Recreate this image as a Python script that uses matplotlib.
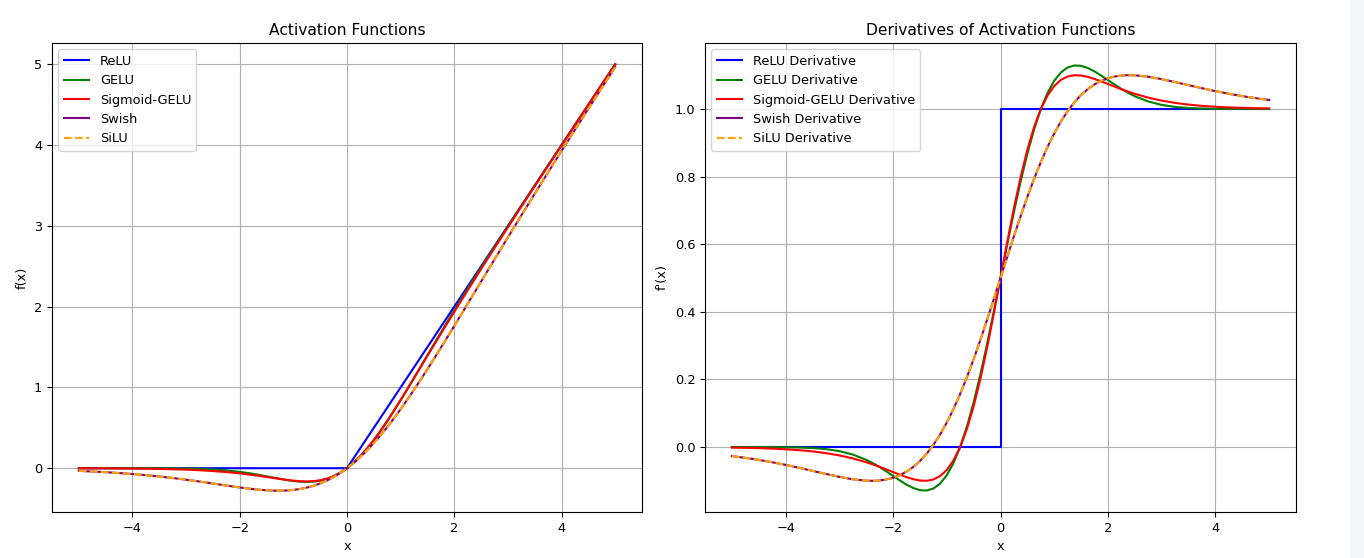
import numpy as np
import matplotlib
matplotlib.use("Agg")
from matplotlib import pyplot as plt
from matplotlib.patches import Rectangle

plt.rcParams['font.size'] = 9.3

# sample points: step 0.25 on the tails, 0.125 in the middle
x = np.r_[np.arange(-5, -2.5, 0.25), np.arange(-2.5, 2.5, 0.125), np.arange(2.5, 5.01, 0.25)]

relu_x = [-5, 0, 5]
relu_y = [0, 0, 5]
relu_d_x = [-5, 0, 0, 5]
relu_d_y = [0, 0, 1, 1]

gelu = [-0.00000, -0.00000, -0.00002, -0.00005, -0.00013, -0.00034, -0.00081, -0.00188, -0.00405, -0.00819,
        -0.01552, -0.02084, -0.02750, -0.03569, -0.04550, -0.05699, -0.07010, -0.08464, -0.10021, -0.11628,
        -0.13206, -0.14659, -0.15866, -0.16694, -0.16997, -0.16624, -0.15427, -0.13269, -0.10032, -0.05628, 0.0,
        0.06872, 0.14968, 0.24231, 0.34573, 0.45876, 0.58003, 0.70806, 0.84134, 0.97841, 1.11794,
        1.25872, 1.39979, 1.54036, 1.67990, 1.81801, 1.95450, 2.08931, 2.22250, 2.35416, 2.48448,
        2.74181, 2.99595, 3.24812, 3.49919, 3.74966, 3.99987, 4.24995, 4.49998, 4.75000, 5.00000]

sig_gelu = [-0.00101, -0.00147, -0.00212, -0.00306, -0.00442, -0.00633, -0.00903, -0.01283, -0.01808, -0.02527,
            -0.03497, -0.04198, -0.04783, -0.05561, -0.06432, -0.07406, -0.08470, -0.09621, -0.10831, -0.12079,
            -0.13306, -0.14450, -0.15420, -0.16103, -0.16361, -0.16037, -0.14961, -0.12962, -0.09880, -0.05588, 0.0,
            0.06912, 0.15120, 0.24538, 0.35039, 0.46463, 0.58639, 0.71397, 0.84580, 0.98050, 1.11694,
            1.25422, 1.39169, 1.52880, 1.66530, 1.80095, 1.93568, 2.06940, 2.20217, 2.33302, 2.46503,
            2.72473, 2.98192, 3.23717, 3.49097, 3.74367, 3.99558, 4.24694, 4.49788, 4.74853, 4.99899]

swish = [-0.03346, -0.04075, -0.04945, -0.05975, -0.07195, -0.08617, -0.10257, -0.12132, -0.14228, -0.16525,
         -0.18964, -0.20211, -0.21454, -0.22672, -0.23841, -0.24931, -0.25909, -0.26734, -0.27364, -0.27749,
         -0.27837, -0.27572, -0.26894, -0.25744, -0.24061, -0.21790, -0.18877, -0.15275, -0.10945, -0.05860, 0.0,
         0.06640, 0.14055, 0.22225, 0.31123, 0.40710, 0.50939, 0.61756, 0.73106, 0.84928, 0.97163,
         1.09751, 1.22636, 1.35766, 1.49091, 1.62569, 1.76159, 1.89828, 2.03546, 2.17289, 2.31036,
         2.58475, 2.85772, 3.12868, 3.39743, 3.66383, 3.92805, 4.19025, 4.45055, 4.70925, 4.96654]
silu = swish

gelu_d = [-0.00001, -0.00002, -0.00008, -0.00021, -0.00051, -0.00123, -0.00283, -0.00602, -0.01195, -0.02203,
          -0.03762, -0.04768, -0.05920, -0.07187, -0.08523, -0.09859, -0.11093, -0.12103, -0.12747, -0.12857,
          -0.12266, -0.10806, -0.08331, -0.04726, 0.00078, 0.06089, 0.13251, 0.21438, 0.30462, 0.40078, 0.5,
          0.59922, 0.69538, 0.78562, 0.86749, 0.93911, 0.99922, 1.04726, 1.08331, 1.10806, 1.12266,
          1.12857, 1.12747, 1.12103, 1.11093, 1.09859, 1.08523, 1.07187, 1.05920, 1.04768, 1.03762,
          1.02203, 1.01195, 1.00602, 1.00283, 1.00123, 1.00051, 1.00021, 1.00008, 1.00002, 1.00001]

sig_gelu_d = [-0.00152, -0.00218, -0.00314, -0.00450, -0.00642, -0.00908, -0.01276, -0.01782, -0.02458, -0.03344,
              -0.04470, -0.05129, -0.05842, -0.06600, -0.07379, -0.08157, -0.08878, -0.09484, -0.09883, -0.09967,
              -0.09591, -0.08591, -0.06778, -0.03960, 0.00043, 0.05368, 0.12078, 0.20128, 0.29351, 0.39442, 0.5,
              0.60558, 0.70649, 0.79872, 0.87922, 0.94632, 0.99957, 1.03960, 1.06778, 1.08591, 1.09591,
              1.09967, 1.09883, 1.09484, 1.08878, 1.08157, 1.07379, 1.06600, 1.05842, 1.05129, 1.04470,
              1.03344, 1.02458, 1.01782, 1.01276, 1.00908, 1.00642, 1.00450, 1.00314, 1.00218, 1.00152]

swish_d = [-0.02655, -0.03182, -0.03791, -0.04485, -0.05266, -0.06122, -0.07028, -0.07947, -0.08810, -0.09523,
           -0.09940, -0.09981, -0.09873, -0.09584, -0.09079, -0.08320, -0.07268, -0.05884, -0.04129, -0.01968,
           0.00632, 0.03694, 0.07233, 0.11252, 0.15740, 0.20671, 0.26004, 0.31680, 0.37629, 0.43766, 0.5,
           0.56234, 0.62371, 0.68320, 0.73996, 0.79329, 0.84260, 0.88748, 0.92767, 0.96306, 0.99368,
           1.01968, 1.04129, 1.05884, 1.07268, 1.08320, 1.09079, 1.09584, 1.09873, 1.09981, 1.09940,
           1.09523, 1.08810, 1.07947, 1.07028, 1.06122, 1.05266, 1.04485, 1.03791, 1.03182, 1.02655]
silu_d = swish_d

fig = plt.figure(figsize=(13.64, 5.58), dpi=100)
fig.patches.append(Rectangle((1350 / 1364, 0), 14 / 1364, 1, transform=fig.transFigure,
                             facecolor="#f4f5f9", edgecolor="none", zorder=-1))

ax1 = fig.add_axes([52 / 1364, 1 - 512 / 558, 590 / 1364, 469 / 558])
ax1.plot(relu_x, relu_y, color="blue", label="ReLU")
ax1.plot(x, gelu, color="green", label="GELU")
ax1.plot(x, sig_gelu, color="red", label="Sigmoid-GELU")
ax1.plot(x, swish, color="purple", label="Swish")
ax1.plot(x, silu, color="orange", linestyle="--", label="SiLU")
ax1.set_title("Activation Functions")
ax1.set_xlabel("x")
ax1.set_ylabel("f(x)")
ax1.legend(loc="upper left")
ax1.grid(True)

ax2 = fig.add_axes([705 / 1364, 1 - 512 / 558, 591 / 1364, 469 / 558])
ax2.plot(relu_d_x, relu_d_y, color="blue", label="ReLU Derivative")
ax2.plot(x, gelu_d, color="green", label="GELU Derivative")
ax2.plot(x, sig_gelu_d, color="red", label="Sigmoid-GELU Derivative")
ax2.plot(x, swish_d, color="purple", label="Swish Derivative")
ax2.plot(x, silu_d, color="orange", linestyle="--", label="SiLU Derivative")
ax2.set_title("Derivatives of Activation Functions")
ax2.set_xlabel("x")
ax2.set_ylabel("f'(x)")
ax2.set_ylim(-0.192, 1.195)
ax2.legend(loc="upper left")
ax2.grid(True)

fig.savefig("out.png", dpi=100)
